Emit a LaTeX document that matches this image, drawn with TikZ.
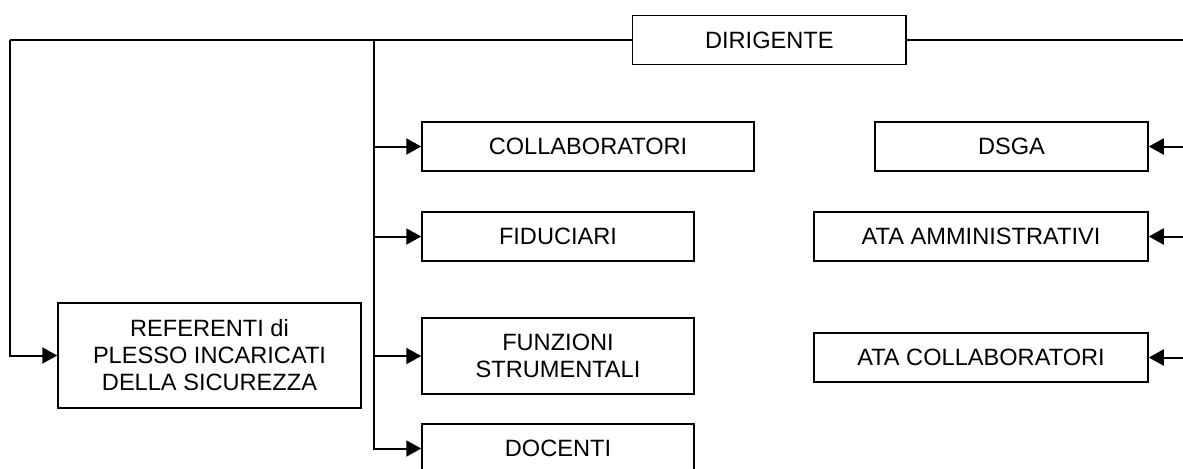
\documentclass[tikz,border=0pt]{standalone}
\usepackage{fontspec}
\setmainfont{Liberation Sans}
\usetikzlibrary{arrows.meta}
\begin{document}
\begin{tikzpicture}[x=0.5pt,y=-0.5pt,
  box/.style={draw=black,line width=0.75pt,fill=white,align=center,inner sep=2pt,
    font=\fontsize{11.8}{13.5}\selectfont,minimum height=24.5pt},
  conn/.style={draw=black,line width=1pt},
  arr/.style={conn,-{Triangle[length=7.5pt,width=8pt]}}]
\useasboundingbox (0,0) rectangle (1183,468);
% nodes
\node[box,minimum width=136.7pt,minimum height=24.7pt] (dir) at (769.35,40) {DIRIGENTE};
\node[box,minimum width=166pt] (coll) at (588,146.5) {COLLABORATORI};
\node[box,minimum width=136pt] (fid) at (558,236.5) {FIDUCIARI};
\node[box,minimum width=136pt,minimum height=38pt] (fun) at (558,356) {FUNZIONI\\STRUMENTALI};
\node[box,minimum width=136pt] (doc) at (558,448.5) {DOCENTI};
\node[box,minimum width=151.5pt,minimum height=52.5pt] (ref) at (209.5,355.5) {REFERENTI di\\PLESSO INCARICATI\\DELLA SICUREZZA};
\node[box,minimum width=136.5pt] (dsga) at (1011.5,146.5) {DSGA};
\node[box,minimum width=167pt] (ataa) at (981,236.5) {ATA AMMINISTRATIVI};
\node[box,minimum width=167pt] (atac) at (981,357.5) {ATA COLLABORATORI};
% junction coordinates
\coordinate (lt) at (10,40);
\coordinate (tr) at (374,40);
\coordinate (rt) at (1196,40);
% left branch
\draw[conn] (dir.west) -- (lt);
\draw[arr] (lt) |- (ref.west);
% trunk
\draw[arr] (tr) |- (coll.west);
\draw[arr] (tr) |- (fid.west);
\draw[arr] (tr) |- (fun.west);
\draw[arr] (tr) |- (doc.west);
% right branch
\draw[conn] (dir.east) -- (rt);
\draw[arr] (rt) |- (dsga.east);
\draw[arr] (rt) |- (ataa.east);
\draw[arr] (rt) |- (atac.east);
\end{tikzpicture}
\end{document}
